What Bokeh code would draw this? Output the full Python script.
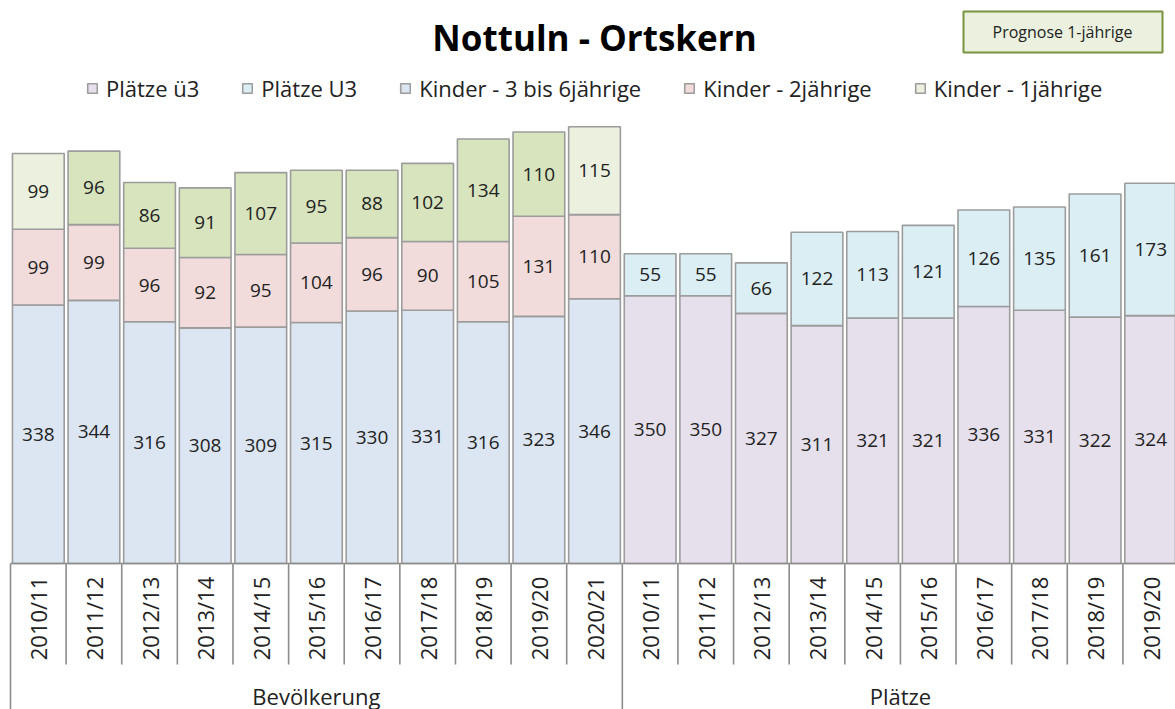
import numpy as np
from bokeh.plotting import figure
from bokeh.models import ColumnDataSource, Legend, LegendItem, BoxAnnotation, Label
from bokeh.core.properties import value
from bokeh.embed import file_html
from bokeh.resources import INLINE

# ---------------- data ----------------
title_text = "Nottuln - Ortskern"
prognose_text = "Prognose 1-jährige"
group_labels = ["Bevölkerung", "Plätze"]

years_bev = ["2010/11", "2011/12", "2012/13", "2013/14", "2014/15", "2015/16",
             "2016/17", "2017/18", "2018/19", "2019/20", "2020/21"]
kinder_3_6 = [338, 344, 316, 308, 309, 315, 330, 331, 316, 323, 346]
kinder_2 = [99, 99, 96, 92, 95, 104, 96, 90, 105, 131, 110]
kinder_1 = [99, 96, 86, 91, 107, 95, 88, 102, 134, 110, 115]
prognose_1j = [True, False, False, False, False, False, False, False, False, False, True]

years_pl = ["2010/11", "2011/12", "2012/13", "2013/14", "2014/15", "2015/16",
            "2016/17", "2017/18", "2018/19", "2019/20"]
plaetze_ue3 = [350, 350, 327, 311, 321, 321, 336, 331, 322, 324]
plaetze_u3 = [55, 55, 66, 122, 113, 121, 126, 135, 161, 173]

legend_labels = ["Plätze ü3", "Plätze U3", "Kinder - 3 bis 6jährige",
                 "Kinder - 2jährige", "Kinder - 1jährige"]

# ---------------- style ----------------
FONT = "Open Sans"
C_UE3 = "#E6E0EC"
C_U3 = "#DBEEF4"
C_36 = "#DCE6F2"
C_2 = "#F2DCDB"
C_1P = "#EBF1DE"
C_1 = "#D7E4BD"
EDGE = "#9C9C9C"
AXIS = "#8C8C8C"
TXT = "#222222"

W, H = 1175, 709
CAT_W = 55.62   # px per category
X0 = 10         # picture x of first category edge
BASE = 563      # picture y of value 0
K = 0.765       # px per unit
OFF = 0         # picture offset of the figure


def X(px):
    return (px - X0) / CAT_W - 0.5


def Y(py):
    return (BASE - py) / K


p = figure(width=W, height=H, x_range=(X(OFF), X(OFF + W)), y_range=(Y(OFF + H), Y(OFF)),
           output_backend="svg", toolbar_location=None, min_border=0)
p.axis.visible = False
p.grid.visible = False
p.outline_line_color = None

n_bev = len(years_bev)
n_pl = len(years_pl)
x_bev = np.arange(n_bev)
x_pl = n_bev + np.arange(n_pl)

k36 = np.array(kinder_3_6)
k2 = np.array(kinder_2)
k1 = np.array(kinder_1)
ue3 = np.array(plaetze_ue3)
u3 = np.array(plaetze_u3)

src_b = ColumnDataSource(dict(
    x=x_bev, k36=k36, b2=k36, t2=k36 + k2, t1=k36 + k2 + k1,
    c1=[C_1P if f else C_1 for f in prognose_1j],
))
src_p = ColumnDataSource(dict(x=x_pl, ue3=ue3, t3=ue3 + u3))

BW = 0.93
bar_kw = dict(width=BW, line_color=EDGE, line_width=1.6)
r36 = p.vbar(x="x", bottom=0, top="k36", fill_color=C_36, source=src_b, **bar_kw)
r2 = p.vbar(x="x", bottom="b2", top="t2", fill_color=C_2, source=src_b, **bar_kw)
r1 = p.vbar(x="x", bottom="t2", top="t1", fill_color="c1", source=src_b, **bar_kw)
rue3 = p.vbar(x="x", bottom=0, top="ue3", fill_color=C_UE3, source=src_p, **bar_kw)
ru3 = p.vbar(x="x", bottom="ue3", top="t3", fill_color=C_U3, source=src_p, **bar_kw)

# value labels (centered in segments)
lx = np.concatenate([x_bev, x_bev, x_bev, x_pl, x_pl])
ly = np.concatenate([k36 / 2, k36 + k2 / 2, k36 + k2 + k1 / 2, ue3 / 2, ue3 + u3 / 2])
lt = [str(v) for v in np.concatenate([k36, k2, k1, ue3, u3])]
p.text(x=lx, y=ly, text=lt, text_align="center", text_baseline="middle",
       text_font=value(FONT), text_font_size="19px", text_color=TXT)

# ---------------- category table axis ----------------
n_all = n_bev + n_pl
edges = np.arange(n_all + 1) - 0.5
group_edges = {0, n_bev, n_all}
y_short = Y(664)
y_long = Y(720)
p.segment(x0=edges, x1=edges, y0=[0] * len(edges),
          y1=[y_long if i in group_edges else y_short for i in range(len(edges))],
          line_color=AXIS, line_width=1.6)
p.segment(x0=[edges[0]], x1=[edges[-1]], y0=[0], y1=[0], line_color=AXIS, line_width=1.6)

all_x = np.concatenate([x_bev, x_pl])
all_years = years_bev + years_pl
p.text(x=all_x, y=[Y(618)] * n_all, text=all_years, angle=np.pi / 2,
       text_align="center", text_baseline="middle",
       text_font=value(FONT), text_font_size="22px", text_color=TXT)
p.text(x=[x_bev.mean(), (n_bev - 0.5 + n_all - 0.5) / 2], y=[Y(695)] * 2, text=group_labels,
       text_align="center", text_baseline="middle",
       text_font=value(FONT), text_font_size="22px", text_color=TXT)

# ---------------- title / box ----------------
p.add_layout(Label(x=X(594), y=Y(37), text=title_text, text_align="center",
                   text_baseline="middle", text_font=FONT, text_font_size="35px",
                   text_font_style="bold", text_color="black"))
p.add_layout(BoxAnnotation(left=X(963), right=X(1162), top=Y(11), bottom=Y(52),
                           fill_color=C_1P, fill_alpha=1, line_color="#77933C",
                           line_width=2, line_alpha=1))
p.add_layout(Label(x=X(1062), y=Y(31), text=prognose_text, text_align="center",
                   text_baseline="middle", text_font=FONT, text_font_size="16px",
                   text_color=TXT))

# ---------------- legend ----------------
items = [
    LegendItem(label=legend_labels[0], renderers=[rue3]),
    LegendItem(label=legend_labels[1], renderers=[ru3]),
    LegendItem(label=legend_labels[2], renderers=[r36]),
    LegendItem(label=legend_labels[3], renderers=[r2]),
    LegendItem(label=legend_labels[4], renderers=[r1], index=0),
]
legend = Legend(items=items, orientation="horizontal", location=(86, 606),
                glyph_width=12, glyph_height=12, label_standoff=8, spacing=42,
                padding=0, margin=0, border_line_color=None, background_fill_alpha=0,
                label_text_font=FONT, label_text_font_size="22px", label_text_color=TXT)
p.add_layout(legend)

open("out.html", "w").write(file_html(p, INLINE))
